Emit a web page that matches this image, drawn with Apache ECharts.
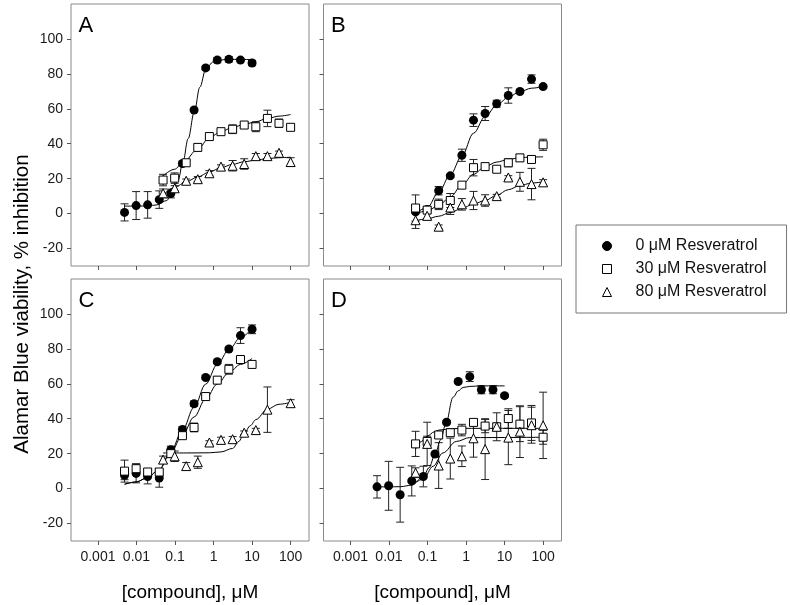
<!DOCTYPE html>
<html><head><meta charset="utf-8">
<script src="https://cdn.jsdelivr.net/npm/echarts@6.0.0/dist/echarts.min.js"></script>
<style>html,body{margin:0;padding:0;background:#fff}#c{width:790px;height:605px}</style>
</head><body><div id="c"></div>
<script>
// ---------- data ----------
const seriesNames = ['0 μM Resveratrol', '30 μM Resveratrol', '80 μM Resveratrol'];
const panelLabels = ['A', 'B', 'C', 'D'];
const xTickValues = [0.001, 0.01, 0.1, 1, 10, 100];
const xTickLabels = ['0.001', '0.01', '0.1', '1', '10', '100'];
const yTickValues = [-20, 0, 20, 40, 60, 80, 100];
const xTitle = '[compound], μM';
const yTitle = 'Alamar Blue viability, % inhibition';

const concLow = [0.0049, 0.0098, 0.0195, 0.039, 0.078, 0.156, 0.3125, 0.625, 1.25, 2.5, 5, 10];
const concHigh = [0.049, 0.098, 0.195, 0.39, 0.78, 1.56, 3.125, 6.25, 12.5, 25, 50, 100];
const concHighNo50 = [0.049, 0.098, 0.195, 0.39, 0.78, 1.56, 3.125, 6.25, 12.5, 25, 100];

// Panel A
const aCircleY = [0.7, 4.6, 5, 8, 11.5, 28.7, 59.3, 83.4, 87.9, 88.3, 87.9, 86.2];
const aCircleErr = [4.9, 8, 7.6, 5, 2.5, 1, 1, 1, 1.5, 1.5, 1, 1.5];
const aSquareY = [19.2, 20.3, 29.1, 37.9, 44.1, 46.9, 48.3, 50.7, 49.7, 54.5, 51.7, 49.4];
const aSquareErr = [3.3, 3, 1, 2, 1, 1, 2.5, 1, 2.8, 4.7, 2.4, 1.5];
const aTriY = [11.6, 14.5, 18.8, 19.7, 23.1, 26.9, 27.4, 28.4, 32.9, 32.9, 34.8, 29.5];
const aTriErr = [2.5, 1.5, 1, 1.5, 1.5, 1, 3, 3, 1.5, 1.5, 1, 2.5];
const fitA0 = [[0.0049,4.3],[0.01,4.3],[0.02,4.4],[0.034,5],[0.061,7.5],[0.082,11.3],[0.12,19],[0.158,28.7],[0.22,43],[0.316,58.2],[0.44,72.3],[0.63,82.6],[0.98,86.9],[2.17,88.3],[10,88.2]];
const fitA1 = [[0.049,21.6],[0.098,25.4],[0.158,29.1],[0.39,36.8],[0.78,43.5],[1.56,47],[3.125,49.3],[6.25,51.1],[12.5,52.6],[25,54.5],[50,55.8],[100,56.7]];
const fitA2 = [[0.049,10.7],[0.098,15],[0.195,18.2],[0.39,21],[0.78,23.8],[1.56,26.3],[3.125,28.2],[6.25,29.7],[12.5,30.6],[25,31.5],[50,32],[100,32.3]];

// Panel B
const bCircleY = [1, 2.4, 13.1, 21.6, 33.4, 53.5, 57.3, 62.9, 67.6, 69.9, 77, 72.7];
const bCircleErr = [1, 1.5, 2.4, 1, 3.5, 3.6, 4, 2, 4.4, 1, 2.4, 1];
const bSquareY = [3.2, 2, 5.3, 7.5, 16.3, 26.3, 26.9, 25.4, 29.1, 31.9, 31, 39.4];
const bSquareErr = [7.5, 1, 3, 4, 1, 4.7, 1, 1, 2.3, 2, 1, 3.2];
const bTriY = [-3.8, -1.3, -7.5, 3.5, 5.3, 7.5, 7.5, 10, 20.7, 18.2, 16.9, 17.9];
const bTriErr = [4.7, 1.5, 1, 4, 3.3, 5.2, 3.3, 1, 1, 5.4, 9, 1.5];
const fitB0 = [[0.049,0],[0.098,3.5],[0.195,12.2],[0.39,22.3],[0.78,33],[1.56,46],[3.125,55.5],[6.25,62],[12.5,66.7],[25,69.8],[50,71.8],[100,72.7]];
const fitB1 = [[0.049,0],[0.098,1.5],[0.195,4.7],[0.39,9.5],[0.78,16.3],[1.56,22.5],[3.125,27],[6.25,29.5],[12.5,31],[25,32],[50,32.4],[100,32.5]];
const fitB2 = [[0.049,-4.1],[0.098,-3],[0.195,-1.5],[0.39,0.6],[0.78,3],[1.56,5.5],[3.125,7.5],[6.25,10.5],[12.5,13.7],[25,16],[50,17.5],[100,18.2]];

// Panel C
const cCircleY = [7.6, 8.7, 6.9, 6.1, 22.3, 33.9, 48.6, 63.6, 72.6, 79.9, 87.6, 91.2];
const cCircleErr = [2.5, 5.4, 4.2, 5.3, 2, 1.5, 1.5, 1, 1, 1, 4.5, 2.5];
const cSquareY = [10, 11.4, 9.5, 9.5, 20, 30.3, 35, 52.7, 62.1, 68.3, 73.9, 71.1];
const cSquareErr = [6.3, 2.8, 1.5, 2, 2, 1.5, 2.5, 1, 2, 2.8, 1, 1];
const cTriY = [16.6, 18.5, 12.9, 15.1, 26.4, 27.9, 28.3, 32, 33.5, 45.2, 48.9];
const cTriErr = [2, 3, 2, 3.5, 1, 1.5, 1.5, 1, 1, 13, 2];
const fitC0 = [[0.0049,2.5],[0.0098,3.8],[0.0195,6.3],[0.039,11],[0.078,21.3],[0.156,33.5],[0.3125,46.6],[0.625,59.8],[1.25,71.1],[2.5,79.5],[5,86.5],[10,91.7]];
const fitC1 = [[0.0049,2.5],[0.0098,3.8],[0.0195,6.3],[0.039,11],[0.078,20.7],[0.156,30.7],[0.3125,41],[0.625,51.4],[1.25,59.8],[2.5,66.4],[5,71.1],[10,74.5]];
const fitC2 = [[0.049,20.4],[0.2,20.4],[0.78,20.5],[1.56,21],[3.125,23],[4.5,27],[6.25,31.7],[9,36],[12.5,39.5],[25,45.5],[50,48.3],[100,49.3]];

// Panel D
const dCircleY = [1.0, 1.6, -3.5, 4.4, 6.9, 19.8, 38, 61.3, 64.1, 56.6, 56.6, 53.2];
const dCircleErr = [6.4, 14, 15.7, 8.6, 5.9, 1, 1, 1, 2.8, 2.3, 2.3, 1];
const dSquareY = [25.6, 27, 30.7, 32, 33.5, 37.9, 35.8, 35.4, 40.1, 36.9, 37.6, 29.4];
const dSquareErr = [7.2, 3, 2, 2, 3.3, 1.5, 3.8, 2, 5.6, 10, 10, 4];
const dTriY = [9.1, 25.6, 13.2, 17.2, 18.5, 28.8, 22.6, 35.4, 29.2, 32.6, 36.3, 36.2];
const dTriErr = [2.8, 12.4, 13.1, 11.7, 5.9, 10.8, 17.4, 8, 15.5, 14.8, 10.3, 19];
const fitD0 = [[0.0049,1],[0.01,1],[0.02,1.1],[0.039,2],[0.078,6.9],[0.11,12],[0.156,19.5],[0.22,28],[0.3,37.3],[0.46,52.3],[0.63,56],[0.84,57.9],[1.25,58.5],[2.5,58.8],[10,58.8]];
const fitD1 = [[0.049,22.6],[0.07,27],[0.098,30],[0.15,32.5],[0.2,33.5],[0.4,34.3],[1,34.5],[100,34.5]];
const fitD2 = [[0.049,3.5],[0.077,5.4],[0.14,12.8],[0.25,20.4],[0.56,27],[1.25,29.2],[100,29.4]];

// ---------- layout / style ----------
const FONT = '"Liberation Sans", Arial, Helvetica, sans-serif';
const gridLeft = [71, 323.5, 71, 323.5];
const gridTop = [4, 4, 279, 279];
const GW = 238, GH = 262;
const X_MIN = 0.0002, X_MAX = 300;
const lg = v => Math.log10(v);

const panels = [
  [[concLow, aCircleY, aCircleErr, fitA0], [concHigh, aSquareY, aSquareErr, fitA1], [concHigh, aTriY, aTriErr, fitA2]],
  [[concHigh, bCircleY, bCircleErr, fitB0], [concHigh, bSquareY, bSquareErr, fitB1], [concHigh, bTriY, bTriErr, fitB2]],
  [[concLow, cCircleY, cCircleErr, fitC0], [concLow, cSquareY, cSquareErr, fitC1], [concHighNo50, cTriY, cTriErr, fitC2]],
  [[concLow, dCircleY, dCircleErr, fitD0], [concHigh, dSquareY, dSquareErr, fitD1], [concHigh, dTriY, dTriErr, fitD2]]
];

const markerStyle = [
  { symbol: 'circle', size: 9, itemStyle: { color: '#000', borderColor: '#000', borderWidth: 0, opacity: 1 } },
  { symbol: 'rect', size: 8, itemStyle: { color: '#fff', borderColor: '#000', borderWidth: 1, opacity: 1 } },
  { symbol: 'triangle', size: 9, itemStyle: { color: '#fff', borderColor: '#000', borderWidth: 1, opacity: 1 } }
];

function errRender(params, api) {
  const x = api.value(0), y = api.value(1), e = api.value(2);
  const t = api.coord([x, y + e]);
  const b = api.coord([x, y - e]);
  const hw = 4;
  const st = { stroke: '#222', lineWidth: 1 };
  return {
    type: 'group',
    children: [
      { type: 'line', shape: { x1: t[0], y1: t[1], x2: b[0], y2: b[1] }, style: st },
      { type: 'line', shape: { x1: t[0] - hw, y1: t[1], x2: t[0] + hw, y2: t[1] }, style: st },
      { type: 'line', shape: { x1: b[0] - hw, y1: b[1], x2: b[0] + hw, y2: b[1] }, style: st }
    ]
  };
}

const grids = [], xAxes = [], yAxes = [], series = [], graphics = [];
for (let i = 0; i < 4; i++) {
  grids.push({ left: gridLeft[i], top: gridTop[i], width: GW, height: GH, show: true,
    borderColor: '#8a8a8a', borderWidth: 1, backgroundColor: 'transparent', containLabel: false, outerBoundsMode: 'none' });
  xAxes.push({
    gridIndex: i, type: 'value', min: lg(X_MIN), max: lg(X_MAX), position: 'bottom',
    axisLine: { show: false, onZero: false }, splitLine: { show: false },
    axisTick: { show: true, inside: false, length: 4, customValues: xTickValues.map(lg), lineStyle: { color: '#555', width: 1 } },
    axisLabel: { show: i >= 2, customValues: xTickValues.map(lg), margin: 9, fontSize: 14, fontFamily: FONT, color: '#1a1a1a',
      formatter: v => { const k = xTickValues.findIndex(t => Math.abs(lg(t) - v) < 1e-6); return k >= 0 ? xTickLabels[k] : ''; } }
  });
  yAxes.push({
    gridIndex: i, type: 'value', min: -30, max: 120, position: 'left',
    axisLine: { show: false, onZero: false }, splitLine: { show: false },
    axisTick: { show: true, inside: false, length: 4, customValues: yTickValues, lineStyle: { color: '#555', width: 1 } },
    axisLabel: { show: i % 2 === 0, customValues: yTickValues, margin: 8, fontSize: 14, fontFamily: FONT, color: '#1a1a1a' }
  });
  panels[i].forEach((s, k) => {
    const [conc, ys, errs, fit] = s;
    series.push({
      type: 'custom', xAxisIndex: i, yAxisIndex: i, z: 1, silent: true,
      renderItem: errRender, encode: { x: 0, y: 1 },
      data: conc.map((c, j) => [lg(c), ys[j], errs[j]])
    });
    series.push({
      type: 'line', xAxisIndex: i, yAxisIndex: i, z: 2, silent: true, showSymbol: false,
      smooth: 0.35, smoothMonotone: 'x', lineStyle: { color: '#000', width: 1 },
      data: fit.map(p => [lg(p[0]), p[1]])
    });
    const m = markerStyle[k];
    series.push({
      type: 'scatter', name: seriesNames[k], xAxisIndex: i, yAxisIndex: i, z: 3,
      symbol: m.symbol, symbolSize: m.size, itemStyle: m.itemStyle,
      emphasis: { disabled: true },
      data: conc.map((c, j) => [lg(c), ys[j]])
    });
  });
  graphics.push({ type: 'text', x: gridLeft[i] + 7.5, y: gridTop[i] + 21.5,
    style: { text: panelLabels[i], font: '22px ' + FONT, fill: '#000', textVerticalAlign: 'middle' } });
}
graphics.push({ type: 'text', x: 22, y: 304, rotation: Math.PI / 2,
  style: { text: yTitle, font: '20.5px ' + FONT, fill: '#000', textAlign: 'center', textVerticalAlign: 'middle' } });
for (let i = 2; i < 4; i++) {
  graphics.push({ type: 'text', x: gridLeft[i] + GW / 2, y: 593,
    style: { text: xTitle, font: '19px ' + FONT, fill: '#000', textAlign: 'center', textVerticalAlign: 'middle' } });
}

const chart = echarts.init(document.getElementById('c'), null, { renderer: 'canvas' });
chart.setOption({
  animation: false,
  backgroundColor: '#fff',
  grid: grids, xAxis: xAxes, yAxis: yAxes, series: series, graphic: graphics,
  legend: {
    data: seriesNames, orient: 'vertical', left: 576, top: 225,
    padding: [12, 20, 12, 26], itemGap: 5, itemWidth: 9, itemHeight: 9,
    borderColor: '#777', borderWidth: 1, selectedMode: false,
    itemStyle: { borderWidth: 1 },
    textStyle: { fontSize: 16, fontFamily: FONT, color: '#111', lineHeight: 18, padding: [0, 0, 0, 19] }
  }
});
</script>
</body></html>
